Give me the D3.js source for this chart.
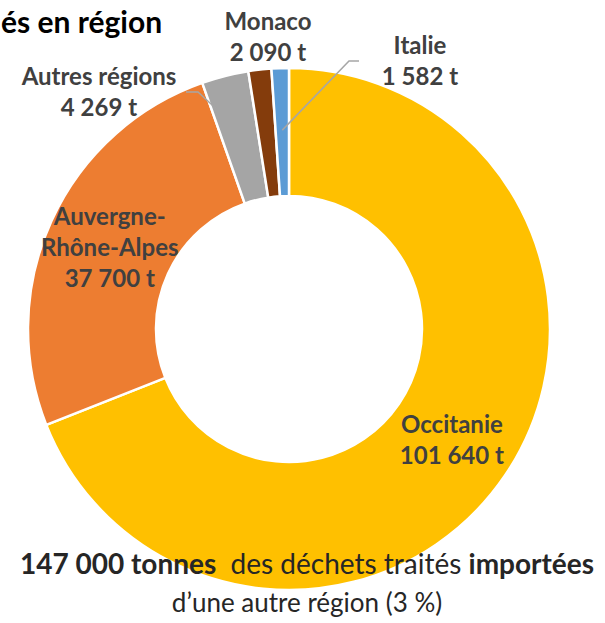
<!DOCTYPE html>
<html>
<head>
<meta charset="utf-8">
<script src="https://cdn.jsdelivr.net/npm/d3@7"></script>
<style>
  body { margin:0; background:#fff; }
  svg text { font-family: Lato, "Open Sans", sans-serif; }
</style>
</head>
<body>
<svg id="viz-svg" width="605" height="623"></svg>
<script>
// data
var regions = ["Occitanie", "Auvergne-Rhône-Alpes", "Autres régions", "Monaco", "Italie"]
  , tonnages = [101640, 37700, 4269, 2090, 1582]
  , sliceColors = ["#FFC000", "#ED7D31", "#A5A5A5", "#843C0C", "#5B9BD5"]
  , labelLines = [["Occitanie"], ["Auvergne-", "Rhône-Alpes"], ["Autres régions"], ["Monaco"], ["Italie"]]
  ;

var svg = d3.select("#viz-svg")
  , cx = 289
  , cy = 329
  , outerRadius = 261
  , innerRadius = 133
  , fr = d3.formatLocale({decimal: ",", thousands: " ", grouping: [3], currency: ["", " €"]})
  , fmt = fr.format(",d")
  ;

var data = regions.map(function(r, i){ return {name: r, value: tonnages[i], color: sliceColors[i], lines: labelLines[i]}; });

var pie = d3.pie().sort(null).value(function(d){ return d.value; });
var arc = d3.arc().innerRadius(innerRadius).outerRadius(outerRadius);
var arcs = pie(data);

var g = svg.append("g").attr("transform", "translate(" + cx + "," + cy + ")");

g.selectAll("path.slice")
  .data(arcs)
  .enter().append("path")
  .attr("class", "slice")
  .attr("d", arc)
  .attr("fill", function(d){ return d.data.color; })
  .attr("stroke", "#fff")
  .attr("stroke-width", 2.5);

function polar(a, r){ return [r * Math.sin(a), -r * Math.cos(a)]; }

// label layout: inside labels sit on the centroid, outside ones get a box + leader
var outside = {
  "Autres régions": {x: -190, y: -244, leader: [[-103, -237], [-91, -237]], frac: 0.12, r: 231}
  , "Monaco": {x: -21, y: -299}
  , "Italie": {x: 131, y: -275, leader: [[70, -268], [60, -268]], frac: 0.5, r: 199}
};

arcs.forEach(function(d){
  var o = outside[d.data.name]
    , lines = d.data.lines.concat([fmt(d.data.value) + " t"])
    , pos, lh = 31;
  if (o){
    pos = [o.x, o.y];
    if (o.leader){
      var a = d.startAngle + o.frac * (d.endAngle - d.startAngle)
        , end = polar(a, o.r);
      g.append("path")
        .datum(o.leader.concat([end]))
        .attr("d", d3.line())
        .attr("fill", "none")
        .attr("stroke", "#A6A6A6")
        .attr("stroke-width", 1.5);
    }
  } else {
    var c = arc.centroid(d);
    pos = [c[0], c[1] - (lines.length - 1) * lh / 2 + 9];
  }
  var t = g.append("text")
    .attr("text-anchor", "middle")
    .attr("fill", "#404040")
    .style("font-weight", "bold")
    .style("font-size", "24px");
  lines.forEach(function(l, i){
    t.append("tspan").attr("x", pos[0]).attr("y", pos[1] + i * lh).text(l);
  });
});

// title (its start is cropped away in the source)
svg.append("text")
  .attr("x", 1).attr("y", 33)
  .attr("fill", "#000")
  .style("font-weight", "bold")
  .style("font-size", "30px")
  .text("és en région");

// bottom caption
var cap = svg.append("text")
  .attr("x", 307).attr("y", 574)
  .attr("text-anchor", "middle")
  .attr("fill", "#262626")
  .style("font-size", "28px");
cap.append("tspan").style("font-weight", "bold").text("147 000 tonnes");
cap.append("tspan").text("\u00a0 des déchets traités ");
cap.append("tspan").style("font-weight", "bold").text("importées");

svg.append("text")
  .attr("x", 307).attr("y", 612)
  .attr("text-anchor", "middle")
  .attr("fill", "#262626")
  .style("font-size", "26px")
  .text("d’une autre région (3 %)");
</script>
</body>
</html>
